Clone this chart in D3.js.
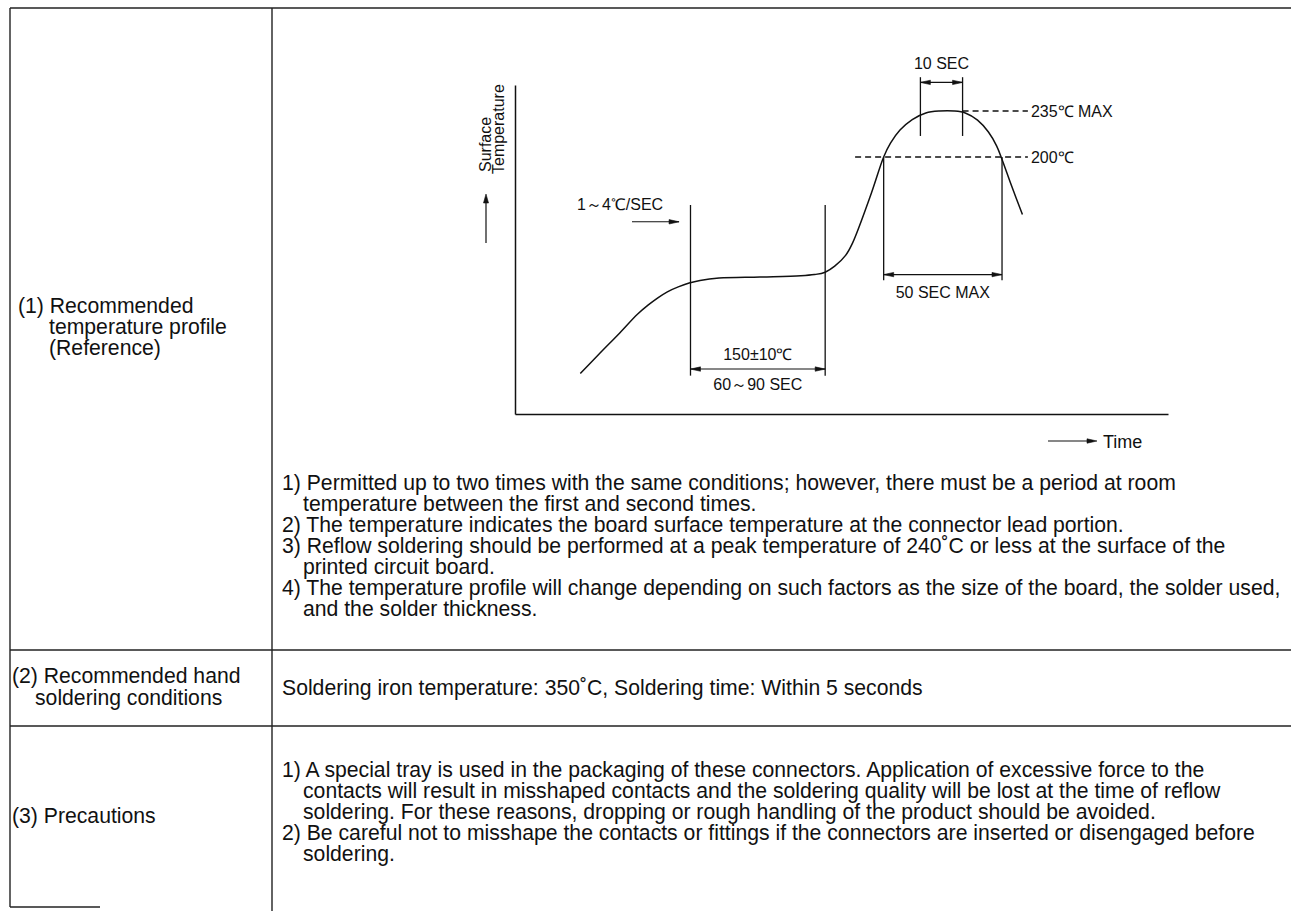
<!DOCTYPE html>
<html><head><meta charset="utf-8">
<script src="https://cdn.jsdelivr.net/npm/d3@7"></script>
<style>
html,body{margin:0;padding:0;background:#fff;}
svg{display:block;}
text{font-family:"Liberation Sans",Arial,Helvetica,sans-serif;fill:#111;}
</style></head><body>
<svg id="c" width="1291" height="911"></svg>
<script>
// ---------- data (schematic reflow profile) ----------
const profileTime = [24, 31, 38.5, 45, 49, 52.5, 56, 60, 64, 68, 75, 90, 105, 110, 114, 117.5, 121.5, 124, 131, 135.5, 138, 141.5, 146, 151, 156, 161.5, 165.5, 170, 174, 177, 179, 182.5, 186.5];
const profileTemp = [62, 80, 99, 116, 124.5, 131, 136.5, 141, 144.5, 146.8, 149, 150, 150.5, 151, 152, 154.5, 159, 164, 185, 200, 210.5, 220.5, 228.5, 233.5, 235, 235, 233.5, 228, 219, 208.5, 199, 188, 176];
const tempLevels = [25, 150, 200, 235, 255];
const timeDomain = [0, 240];
const preheatWindow = [64.5, 114];    // 60~90 SEC
const preheatMarkTemps = [60, 180];
const preheatArrowTemp = 66;
const reflowWindow = [135.5, 179];    // 50 SEC MAX
const reflowMarkTemps = [147, 200];
const reflowArrowTemp = 151;
const peakWindow = [149, 164.5];      // 10 SEC
const peakMarkTemps = [216, 261];
const peakArrowTemp = 257;
const rampArrow = [43, 60.3];
const rampArrowTemp = 173;
const line200 = [125, 188.5];
const line235 = [164.5, 188.5];

const chartLabels = {
  peak: "10 SEC", max: "235\u2103 MAX", t200: "200\u2103", ramp: "1\uFF5E4\u2103/SEC",
  preheatTemp: "150\u00B110\u2103", preheatTime: "60\uFF5E90 SEC", reflow: "50 SEC MAX",
  yLabel: ["Surface", "Temperature"], xLabel: "Time"
};
const rowLabels = [
  ["(1) Recommended", "temperature profile", "(Reference)"],
  ["(2) Recommended hand", "soldering conditions"],
  ["(3) Precautions"]
];
const notes1 = [
  ["1) Permitted up to two times with the same conditions; however, there must be a period at room", 0],
  ["temperature between the first and second times.", 1],
  ["2) The temperature indicates the board surface temperature at the connector lead portion.", 0],
  ["3) Reflow soldering should be performed at a peak temperature of 240\u02DAC or less at the surface of the", 0],
  ["printed circuit board.", 1],
  ["4) The temperature profile will change depending on such factors as the size of the board, the solder used,", 0],
  ["and the solder thickness.", 1]
];
const notes2 = [["Soldering iron temperature: 350\u02DAC, Soldering time: Within 5 seconds", 0]];
const notes3 = [
  ["1) A special tray is used in the packaging of these connectors. Application of excessive force to the", 0],
  ["contacts will result in misshaped contacts and the soldering quality will be lost at the time of reflow", 1],
  ["soldering. For these reasons, dropping or rough handling of the product should be avoided.", 1],
  ["2) Be careful not to misshape the contacts or fittings if the connectors are inserted or disengaged before", 0],
  ["soldering.", 1]
];

// ---------- drawing ----------
const svg = d3.select("#c");
const INK = "#111";
const BODY = 21.2;

// table frame
const tbl = svg.append("g").attr("stroke", "#222").attr("stroke-width", 1.4).attr("fill", "none");
const hl = (x1, x2, yy) => tbl.append("line").attr("x1", x1).attr("x2", x2).attr("y1", yy).attr("y2", yy);
const vl = (xx, y1, y2) => tbl.append("line").attr("x1", xx).attr("x2", xx).attr("y1", y1).attr("y2", y2);
hl(10, 1291, 8);
vl(10, 8, 907);
vl(272, 8, 911);
hl(10, 1291, 650);
hl(10, 1291, 726);
hl(10, 100, 907);

// text blocks
function block(lines, x0, indent, yStart, lh, size) {
  const t = svg.append("g").attr("font-size", size);
  lines.forEach((l, i) => {
    t.append("text").attr("x", x0 + (l[1] ? indent : 0)).attr("y", yStart + i * lh).text(l[0]);
  });
}
block(rowLabels[0].map((s, i) => [s, i > 0 ? 1 : 0]), 18, 31, 313, 21, BODY);
block(rowLabels[1].map((s, i) => [s, i > 0 ? 1 : 0]), 12, 23, 683, 22, BODY);
block(rowLabels[2].map(s => [s, 0]), 12, 0, 823, 21, BODY);

block(notes1, 282, 21, 490, 21, BODY);
block(notes2, 282, 21, 695, 21, BODY);
block(notes3, 282, 21, 777, 21, BODY);

// chart
const x = d3.scaleLinear().domain(timeDomain).range([515, 1168]);
const y = d3.scaleLinear().domain(tempLevels).range([414, 277, 157, 111, 85]);
const ch = svg.append("g");

const axX = ch.append("g").attr("transform", `translate(0,${y(tempLevels[0])})`)
  .call(d3.axisBottom(x).tickValues([]).tickSizeOuter(0));
const axY = ch.append("g").attr("transform", `translate(${x(timeDomain[0])},0)`)
  .call(d3.axisLeft(y).tickValues([]).tickSizeOuter(0));
[axX, axY].forEach(a => a.select(".domain").attr("stroke", INK).attr("stroke-width", 1.5));

const pts = profileTime.map((t, i) => [t, profileTemp[i]]);
ch.append("path").datum(pts)
  .attr("fill", "none").attr("stroke", INK).attr("stroke-width", 1.5)
  .attr("d", d3.line().x(d => x(d[0])).y(d => y(d[1])).curve(d3.curveCatmullRom.alpha(0.5)));

const ln = (x1, y1, x2, y2, w = 1.3) => ch.append("line").attr("x1", x1).attr("y1", y1).attr("x2", x2).attr("y2", y2)
  .attr("stroke", INK).attr("stroke-width", w);
function head(px, py, dir) {
  let p;
  if (dir === "up") p = [[px, py], [px - 2.5, py + 9], [px + 2.5, py + 9]];
  else p = [[px, py], [px - dir * 10, py - 2.2], [px - dir * 10, py + 2.2]];
  ch.append("path").attr("d", d3.line()(p) + "Z").attr("fill", INK).attr("stroke", INK).attr("stroke-width", 0.6);
}
function dimWindow(win, temps, arrowTemp) {
  win.forEach(t => ln(x(t), y(temps[0]), x(t), y(temps[1])));
  const ay = y(arrowTemp);
  ln(x(win[0]), ay, x(win[1]), ay, 1.1);
  head(x(win[0]), ay, -1);
  head(x(win[1]), ay, 1);
}
dimWindow(preheatWindow, preheatMarkTemps, preheatArrowTemp);
dimWindow(reflowWindow, reflowMarkTemps, reflowArrowTemp);
dimWindow(peakWindow, peakMarkTemps, peakArrowTemp);

[[line200, 200], [line235, 235]].forEach(([r, tv]) => {
  ch.append("line").attr("x1", x(r[0])).attr("x2", x(r[1])).attr("y1", y(tv)).attr("y2", y(tv))
    .attr("stroke", INK).attr("stroke-width", 1.3).attr("stroke-dasharray", "6,4");
});

ln(x(rampArrow[0]), y(rampArrowTemp), x(rampArrow[1]), y(rampArrowTemp), 1.1);
head(x(rampArrow[1]), y(rampArrowTemp), 1);

const lab = ch.append("g").attr("font-size", 16);
lab.append("text").attr("x", x(d3.mean(peakWindow))).attr("y", y(peakMarkTemps[1]) - 8).attr("text-anchor", "middle").text(chartLabels.peak);
lab.append("text").attr("x", x(line235[1]) + 3).attr("y", y(235) + 6).text(chartLabels.max);
lab.append("text").attr("x", x(line200[1]) + 3).attr("y", y(200) + 6).text(chartLabels.t200);
lab.append("text").attr("x", x(rampArrow[0]) - 55).attr("y", y(rampArrowTemp) - 12).text(chartLabels.ramp);
lab.append("text").attr("x", x(d3.mean(preheatWindow))).attr("y", y(preheatArrowTemp) - 9).attr("text-anchor", "middle").text(chartLabels.preheatTemp);
lab.append("text").attr("x", x(d3.mean(preheatWindow))).attr("y", y(preheatArrowTemp) + 21).attr("text-anchor", "middle").text(chartLabels.preheatTime);
lab.append("text").attr("x", x(d3.mean(reflowWindow))).attr("y", y(reflowArrowTemp) + 23).attr("text-anchor", "middle").text(chartLabels.reflow);

const ax0 = x(timeDomain[0]);
lab.append("text").attr("transform", `translate(${ax0 - 24},172) rotate(-90)`).text(chartLabels.yLabel[0]);
lab.append("text").attr("transform", `translate(${ax0 - 11},174) rotate(-90)`).text(chartLabels.yLabel[1]);
ln(ax0 - 29, 243, ax0 - 29, 200, 1.2);
head(ax0 - 29, 194, "up");
const ty = y(tempLevels[0]) + 27;
ln(1048, ty, 1090, ty, 1.1);
head(1097, ty, 1);
lab.append("text").attr("x", 1103).attr("y", ty + 6.5).attr("font-size", 18).text(chartLabels.xLabel);
</script>
</body></html>
